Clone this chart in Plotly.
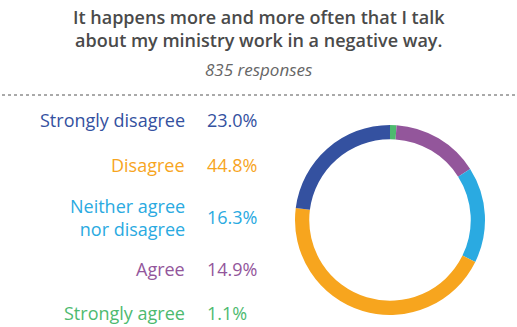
import plotly.graph_objects as go

W, H = 517, 327

categories = ["Strongly agree", "Agree", "Neither agree<br>nor disagree", "Disagree", "Strongly disagree"]
values = [1.1, 14.9, 16.3, 44.8, 23.0]
colors = ["#4dba6f", "#93569b", "#2aaae1", "#f7a51e", "#3451a0"]
title_lines = "It happens more and more often that I talk<br>about my ministry work in a negative way."
subtitle = "835 responses"

# layout (pixel positions from top) for the legend rows, in the order of categories
row_y = [313, 269, 217, 165, 120]

def py(y):
    return 1 - y / H

def px(x):
    return x / W

fig = go.Figure()
fig.add_trace(go.Pie(
    labels=categories, values=values, sort=False, direction="clockwise", rotation=0,
    hole=0.85, marker=dict(colors=colors, line=dict(width=0)),
    textinfo="none", hoverinfo="label+percent", showlegend=False,
    domain=dict(x=[px(295), px(485)], y=[py(315), py(125)]),
))

font_family = "'Open Sans', sans-serif"
annotations = []
annotations.append(dict(x=0.5, y=py(29), xref="paper", yref="paper", text=title_lines,
                        showarrow=False, xanchor="center", yanchor="middle", align="center",
                        font=dict(family=font_family, size=18, color="#4a4a4a", weight=600)))
annotations.append(dict(x=0.5, y=py(70), xref="paper", yref="paper", text="<i>" + subtitle + "</i>",
                        showarrow=False, xanchor="center", yanchor="middle",
                        font=dict(family=font_family, size=17, color="#666666")))
for cat, val, col, y in zip(categories, values, colors, row_y):
    annotations.append(dict(x=px(187), y=py(y), xref="paper", yref="paper", text=cat,
                            showarrow=False, xanchor="right", yanchor="middle", align="right",
                            font=dict(family=font_family, size=18, color=col)))
    annotations.append(dict(x=px(205), y=py(y), xref="paper", yref="paper", text=f"{val:.1f}%",
                            showarrow=False, xanchor="left", yanchor="middle", align="left",
                            font=dict(family=font_family, size=18, color=col)))

fig.update_layout(
    width=W, height=H, margin=dict(l=0, r=0, t=0, b=0),
    paper_bgcolor="white", plot_bgcolor="white",
    annotations=annotations,
    shapes=[dict(type="line", xref="paper", yref="paper", x0=px(2), x1=px(515), y0=py(95), y1=py(95),
                 line=dict(color="#555555", width=1, dash="dot"))],
)
fig.write_html("out.html", config={"displayModeBar": False},
               post_script="document.body.style.margin='0';document.body.style.overflow='hidden';")
